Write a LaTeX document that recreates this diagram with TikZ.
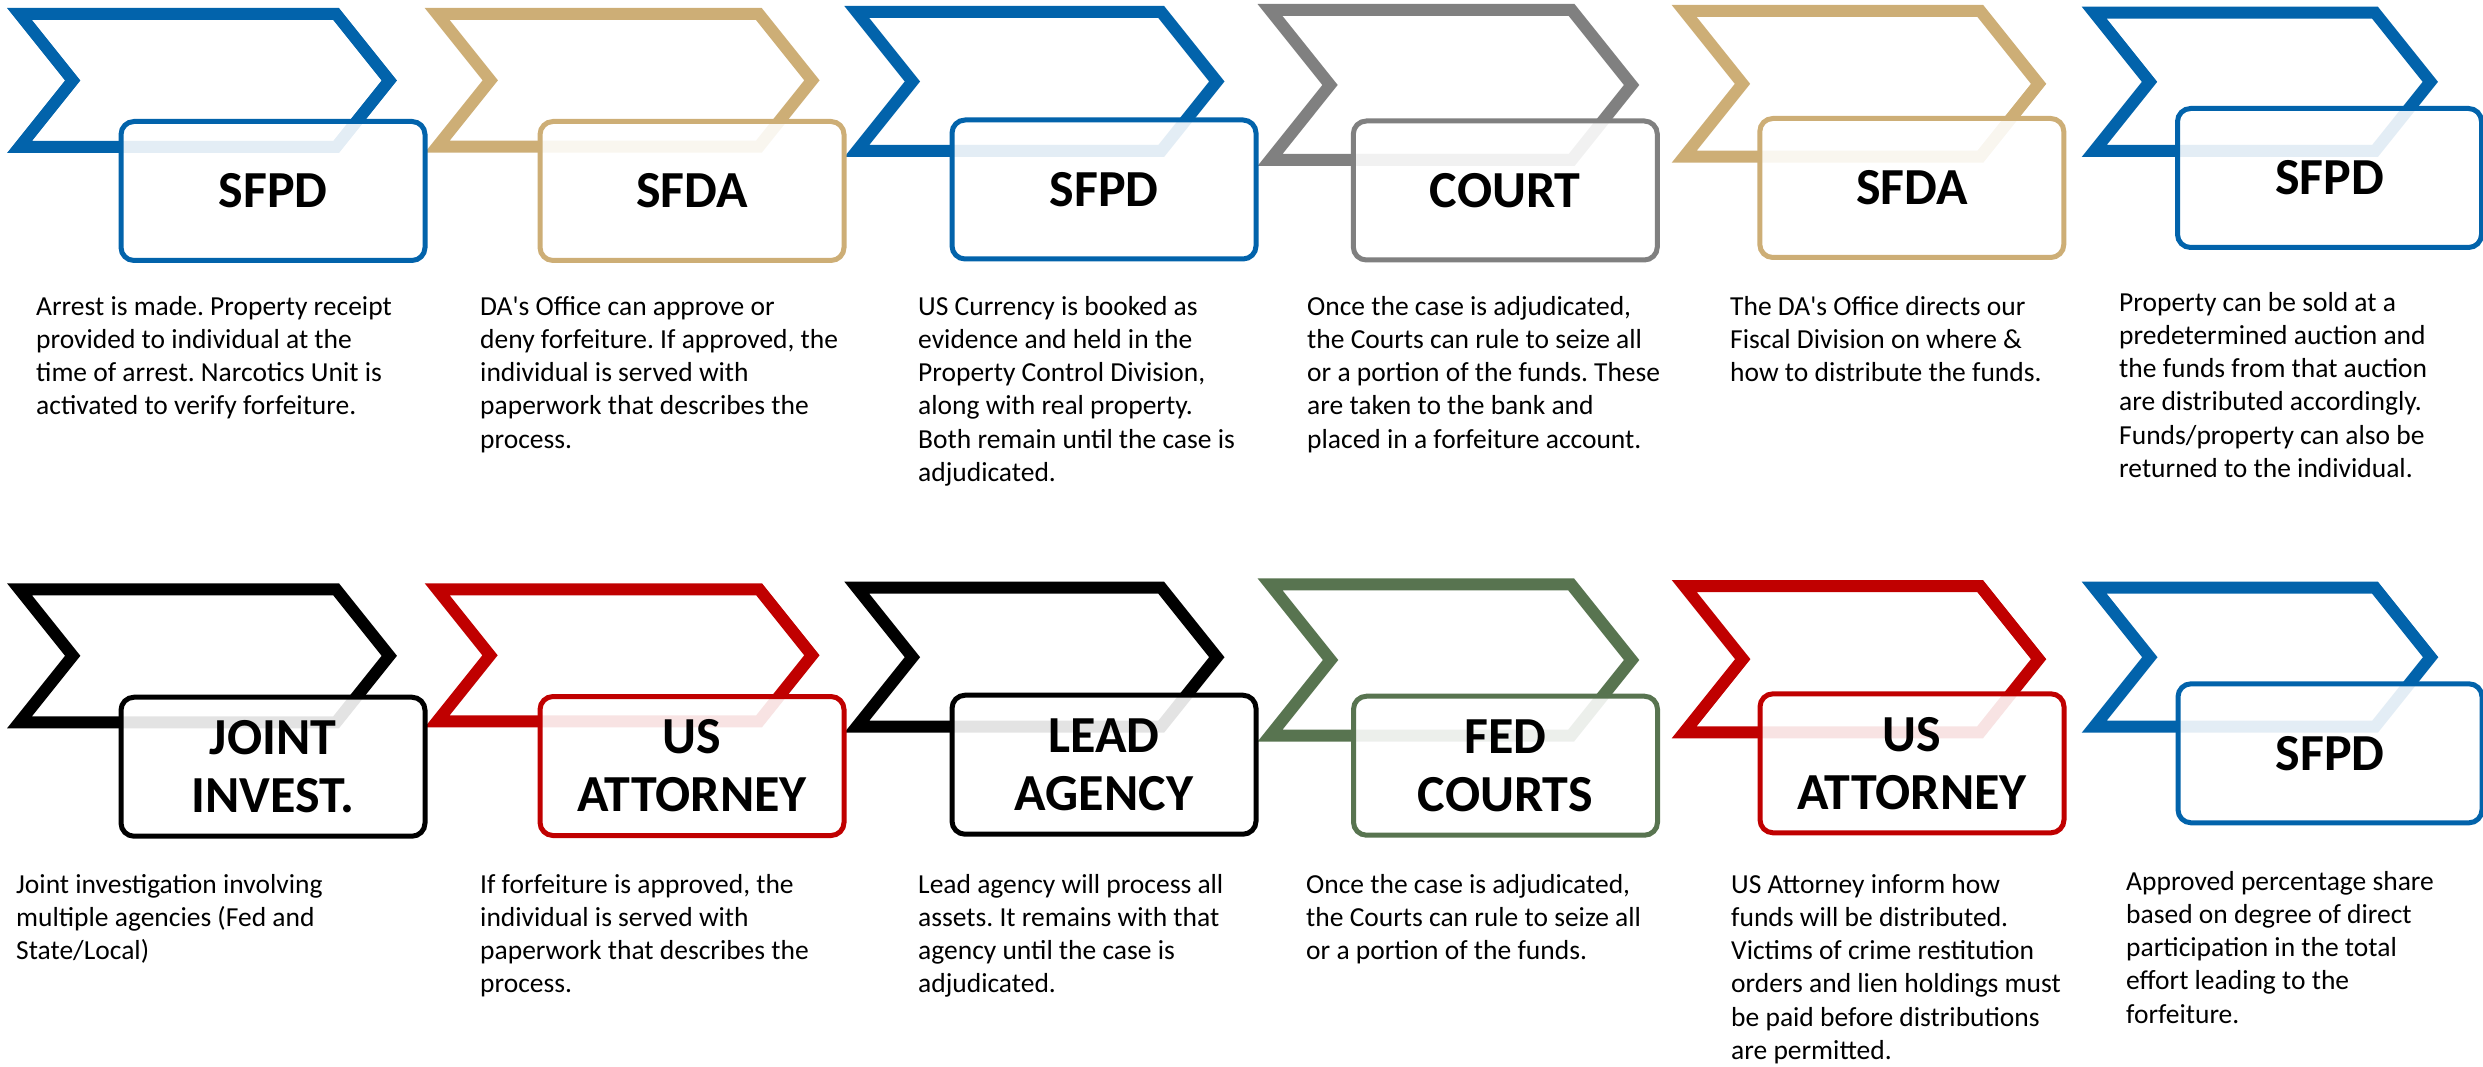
\documentclass[tikz,border=0pt]{standalone}
\usepackage{fontspec}
\setmainfont{Carlito}
\frenchspacing

\definecolor{pdblue}{RGB}{2,99,171}
\definecolor{datan}{RGB}{205,174,118}
\definecolor{courtgray}{RGB}{128,128,128}
\definecolor{usred}{RGB}{192,0,0}
\definecolor{fedgreen}{RGB}{88,116,80}
\definecolor{leadblack}{RGB}{0,0,0}

\tikzset{
  chevline/.style={line width=12pt, line join=miter},
  stagebox/.style={draw=#1, line width=5pt, rounded corners=13pt,
    fill=white, fill opacity=0.89, text opacity=1,
    minimum width=304pt, minimum height=139pt, inner sep=0pt,
    align=center, font=\fontsize{52}{58}\selectfont\bfseries},
  note/.style={anchor=base west, inner sep=0pt,
    font=\fontsize{27.5}{33.3}\selectfont}
}

% outline arrow: left x, top y, tip x, bottom y, colour (outer edges)
\newcommand\stagechevron[5]{%
  \pgfmathsetmacro\chs{0.4*(#4-#2)}%
  \pgfmathsetmacro\chm{(#2+#4)/2}%
  \draw[chevline, draw=#5] (#1+12.5,#2+6) -- (#3-\chs-2.9,#2+6)
    -- (#3-7.7,\chm) -- (#3-\chs-2.9,#4-6) -- (#1+12.5,#4-6)
    -- (#1+\chs+7.7,\chm) -- cycle;
}
\newcommand\notetext[1]{\parbox[t]{440pt}{\raggedright\frenchspacing #1}}

\begin{document}
\begin{tikzpicture}[x=1pt,y=-1pt]
\useasboundingbox (0,0) rectangle (2483,1067);

% ---- upper row: state process ----
\stagechevron{7}{8}{397}{153}{pdblue}
\stagechevron{424.7}{8}{819.6}{152.7}{datan}
\stagechevron{844.3}{6}{1224.5}{157}{pdblue}
\stagechevron{1257.5}{4}{1639.3}{166}{courtgray}
\stagechevron{1671.7}{5}{2046.3}{162.7}{datan}
\stagechevron{2081.7}{6.7}{2438}{157}{pdblue}

% ---- lower row: federal process ----
\stagechevron{7}{583.3}{397}{728.3}{leadblack}
\stagechevron{424.7}{583.3}{819.6}{727.3}{usred}
\stagechevron{844.3}{581.7}{1224.5}{732.7}{leadblack}
\stagechevron{1257.5}{578.3}{1639.3}{741.7}{fedgreen}
\stagechevron{1671.7}{580}{2046.3}{738.3}{usred}
\stagechevron{2081.7}{581.7}{2438.3}{732.7}{pdblue}

% ---- agency boxes ----
\node[stagebox=pdblue]    (a1) at (273,191)    {SFPD};
\node[stagebox=datan]     (a2) at (692,191)    {SFDA};
\node[stagebox=pdblue]    (a3) at (1104,189.5) {SFPD};
\node[stagebox=courtgray] (a4) at (1505.3,190.5) {COURT};
\node[stagebox=datan]     (a5) at (1911.8,188) {SFDA};
\node[stagebox=pdblue]    (a6) at (2329.5,178) {SFPD};

\node[stagebox=leadblack] (b1) at (273,766.7)  {JOINT\\INVEST.};
\node[stagebox=usred]     (b2) at (692,766)    {US\\ATTORNEY};
\node[stagebox=leadblack] (b3) at (1104,764.7) {LEAD\\AGENCY};
\node[stagebox=fedgreen]  (b4) at (1505.5,765.7) {FED\\COURTS};
\node[stagebox=usred]     (b5) at (1912,763.3) {US\\ATTORNEY};
\node[stagebox=pdblue]    (b6) at (2330,753.3) {SFPD};

% ---- descriptions ----
\node[note] (ta1) at (36,315) {\notetext{Arrest is made. Property receipt\\provided to individual at the\\time of arrest. Narcotics Unit is\\activated to verify forfeiture.}};
\node[note] (ta2) at (480,315) {\notetext{DA\textquotesingle s Office can approve or\\deny forfeiture. If approved, the\\individual is served with\\paperwork that describes the\\process.}};
\node[note] (ta3) at (918,315) {\notetext{US Currency is booked as\\evidence and held in the\\Property Control Division,\\along with real property.\\Both remain until the case is\\adjudicated.}};
\node[note] (ta4) at (1307,315) {\notetext{Once the case is adjudicated,\\the Courts can rule to seize all\\or a portion of the funds. These\\are taken to the bank and\\placed in a forfeiture account.}};
\node[note] (ta5) at (1730,315) {\notetext{The DA\textquotesingle s Office directs our\\Fiscal Division on where \&\\how to distribute the funds.}};
\node[note] (ta6) at (2119,311) {\notetext{Property can be sold at a\\predetermined auction and\\the funds from that auction\\are distributed accordingly.\\Funds/property can also be\\returned to the individual.}};

\node[note] (tb1) at (16,893) {\notetext{Joint investigation involving\\multiple agencies (Fed and\\State/Local)}};
\node[note] (tb2) at (480,893) {\notetext{If forfeiture is approved, the\\individual is served with\\paperwork that describes the\\process.}};
\node[note] (tb3) at (918,893) {\notetext{Lead agency will process all\\assets. It remains with that\\agency until the case is\\adjudicated.}};
\node[note] (tb4) at (1306,893) {\notetext{Once the case is adjudicated,\\the Courts can rule to seize all\\or a portion of the funds.}};
\node[note] (tb5) at (1731,893) {\notetext{US Attorney inform how\\funds will be distributed.\\Victims of crime restitution\\orders and lien holdings must\\be paid before distributions\\are permitted.}};
\node[note] (tb6) at (2126,890) {\notetext{Approved percentage share\\based on degree of direct\\participation in the total\\effort leading to the\\forfeiture.}};
\end{tikzpicture}
\end{document}
